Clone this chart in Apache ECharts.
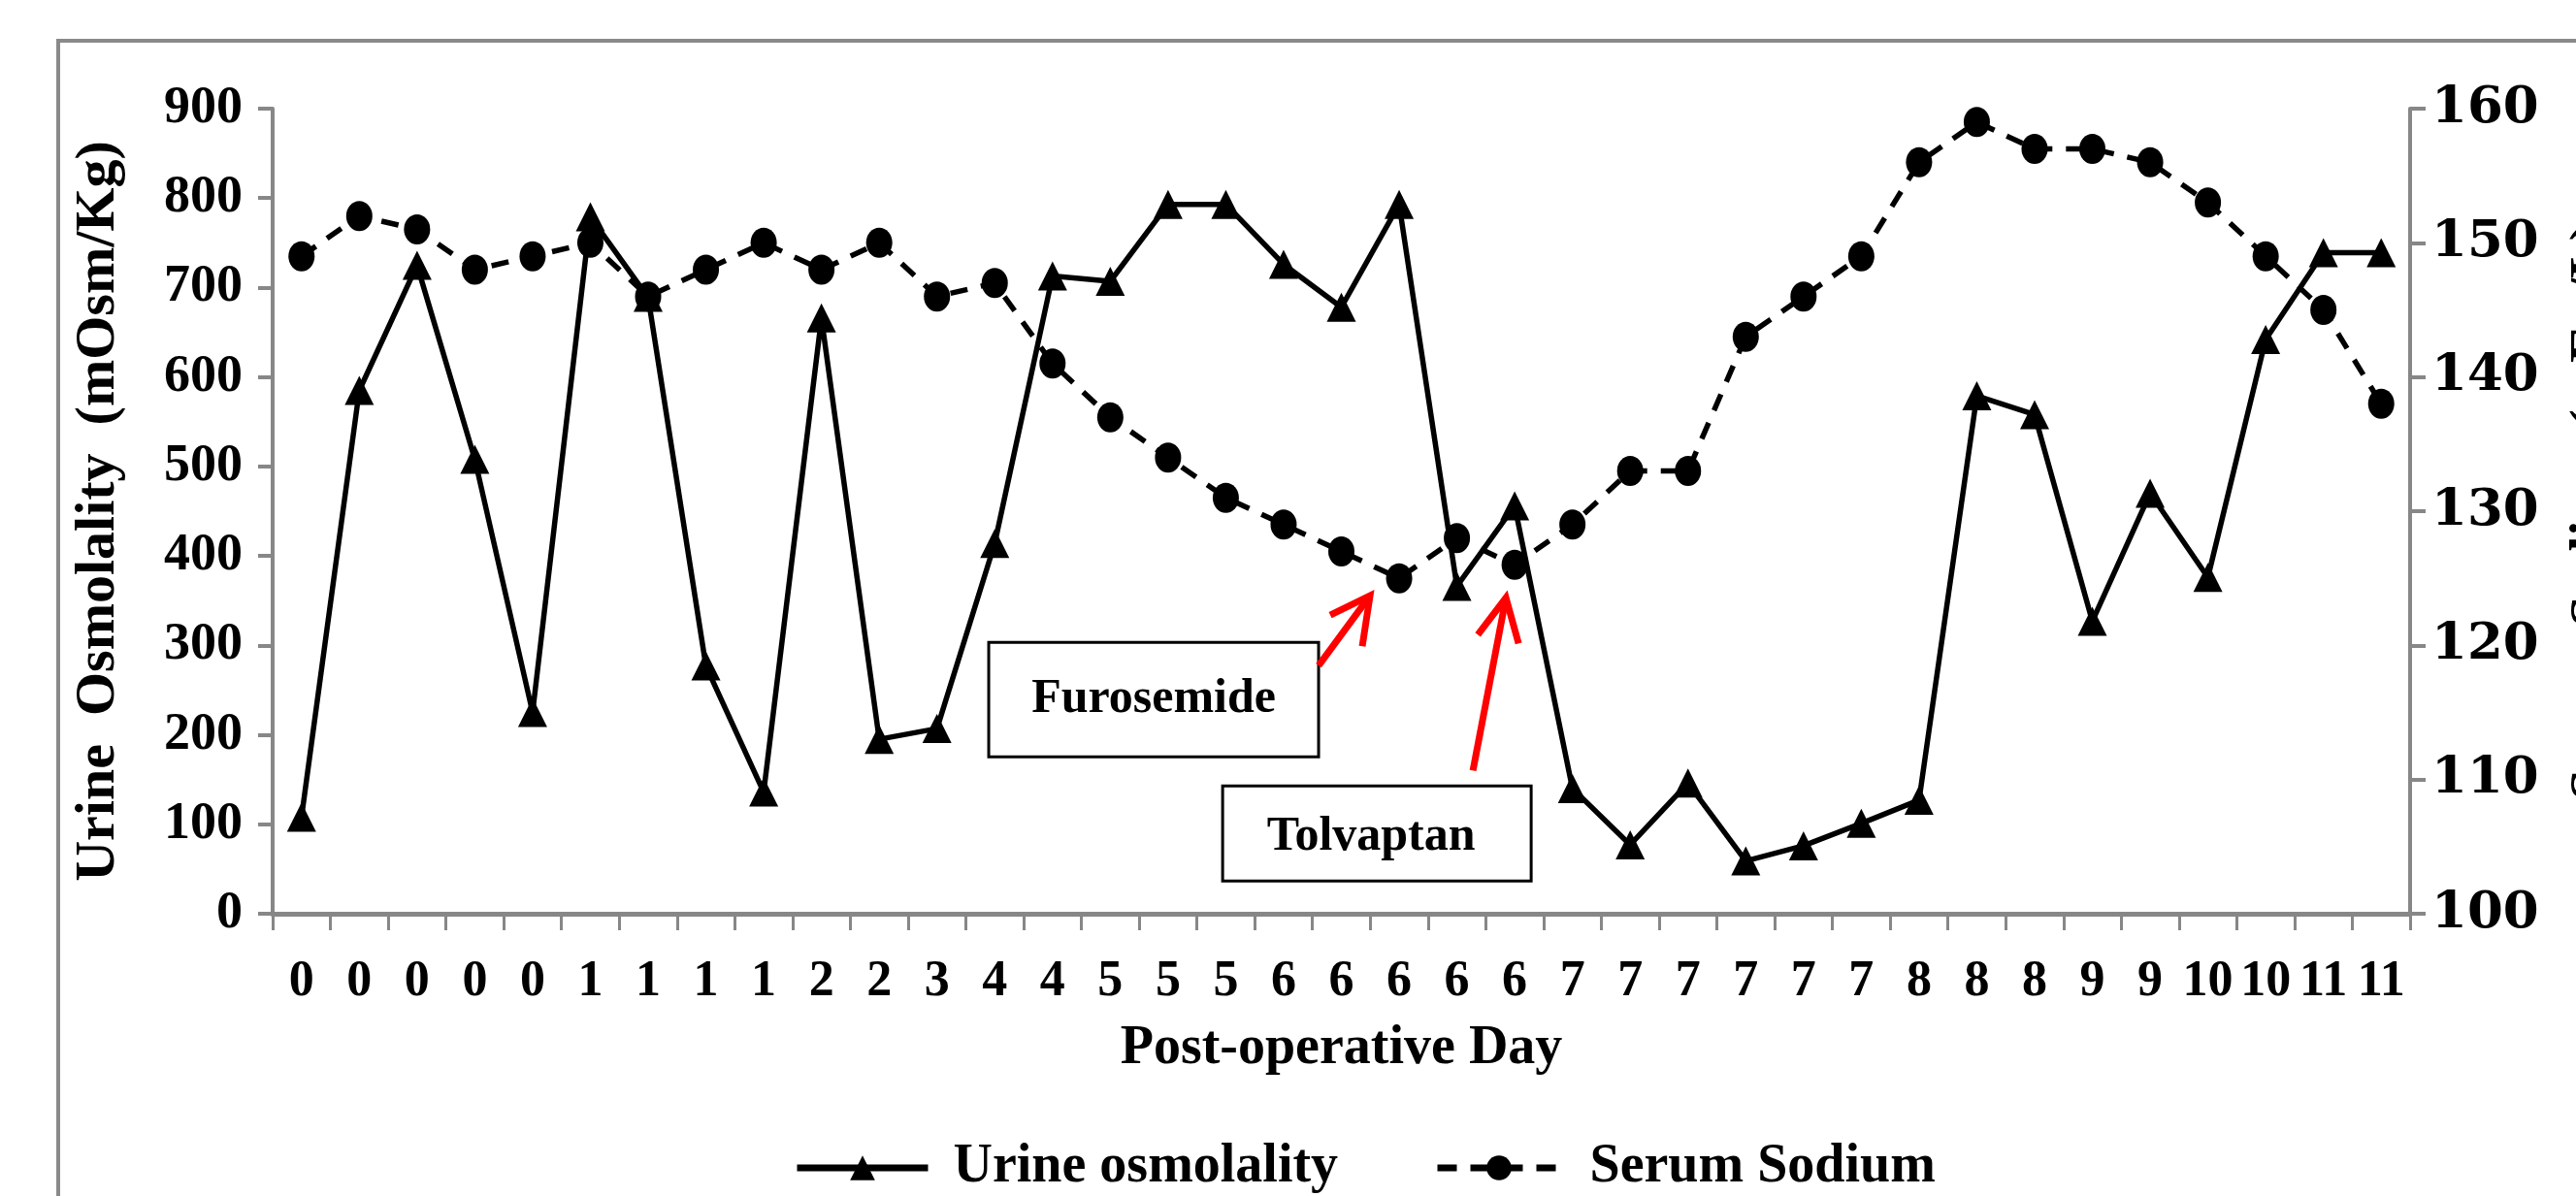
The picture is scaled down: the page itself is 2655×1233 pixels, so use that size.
<!DOCTYPE html>
<html><head><meta charset="utf-8">
<script src="https://cdn.jsdelivr.net/npm/echarts@6/dist/echarts.min.js"></script>
<style>html,body{margin:0;padding:0;background:#fff;}#c{width:2655px;height:1233px;}</style>
</head><body><div id="c"></div>
<script>
// ---- data ----
const dayLabels = ['0','0','0','0','0','1','1','1','1','2','2','3','4','4','5','5','5','6','6','6','6','6','7','7','7','7','7','7','8','8','8','9','9','10','10','11','11'];
const urineOsmolality = [108,585,725,508,225,779,689,277,136,666,195,207,414,713,707,793,793,726,678,793,366,456,140,77,146,59,76,101,127,579,558,327,470,376,642,739,739];
const serumSodium = [149,152,151,148,149,150,146,148,150,148,150,146,147,141,137,134,131,129,127,125,128,126,129,133,133,143,146,149,156,159,157,157,156,153,149,145,138];
const leftAxisTicks = [0,100,200,300,400,500,600,700,800,900];
const rightAxisTicks = [100,110,120,130,140,150,160];
const furosemideIndex = 19;
const tolvaptanIndex = 21;

const chart = echarts.init(document.getElementById('c'), null, {renderer:'canvas'});
const SERIF = 'Liberation Serif';
const AX = '#878787';
const labelStyle = {color:'#000', fontFamily:SERIF, fontWeight:'bold'};

const option = {
  backgroundColor:'#fff',
  animation:false,
  grid:{left:281, right:2655-2484, top:112, bottom:1233-942, containLabel:false, outerBoundsMode:'none'},
  xAxis:{
    type:'category', data:dayLabels, boundaryGap:true,
    axisLine:{lineStyle:{color:AX, width:5}},
    axisTick:{show:true, interval:0, length:17, lineStyle:{color:AX, width:3}},
    axisLabel:Object.assign({interval:0, margin:45, fontSize:52, hideOverlap:false}, labelStyle),
    splitLine:{show:false},
    name:'Post-operative Day', nameLocation:'middle', nameGap:112,
    nameTextStyle:Object.assign({fontSize:56}, labelStyle)
  },
  yAxis:[
    {
      type:'value', position:'left',
      min:leftAxisTicks[0], max:leftAxisTicks[leftAxisTicks.length-1], interval:leftAxisTicks[1]-leftAxisTicks[0],
      splitLine:{show:false},
      axisLine:{show:true, lineStyle:{color:AX, width:4}},
      axisTick:{show:true, length:15, lineStyle:{color:AX, width:4}},
      axisLabel:Object.assign({margin:31, fontSize:54}, labelStyle),
      name:'Urine  Osmolality  (mOsm/Kg)', nameLocation:'middle', nameRotate:90, nameGap:150,
      nameTextStyle:Object.assign({fontSize:58}, labelStyle)
    },
    {
      type:'value', position:'right',
      min:rightAxisTicks[0], max:rightAxisTicks[rightAxisTicks.length-1], interval:rightAxisTicks[1]-rightAxisTicks[0],
      splitLine:{show:false},
      axisLine:{show:true, lineStyle:{color:AX, width:4}},
      axisTick:{show:true, length:16, lineStyle:{color:AX, width:4}},
      axisLabel:{margin:22, fontSize:53, color:'#000', fontFamily:'DejaVu Serif', fontWeight:'bold'},
      name:'Serum Sodium (mEq/L)', nameLocation:'middle', nameRotate:90, nameGap:160,
      nameTextStyle:Object.assign({fontSize:58}, labelStyle)
    }
  ],
  legend:[
    {data:['Urine osmolality'], left:813, top:1171, itemWidth:135, itemHeight:32, itemGap:0,
     lineStyle:{width:7},
     textStyle:Object.assign({fontSize:56, padding:[0,0,0,21]}, labelStyle)},
    {data:['Serum Sodium'], left:1473, top:1171, itemWidth:127, itemHeight:32, itemGap:0,
     lineStyle:{width:7, type:[20,14]},
     textStyle:Object.assign({fontSize:56, padding:[0,0,0,25]}, labelStyle)}
  ],
  series:[
    {name:'Urine osmolality', type:'line', data:urineOsmolality, yAxisIndex:0,
     symbol:'triangle', symbolSize:30, showAllSymbol:true,
     lineStyle:{color:'#000', width:5.5}, itemStyle:{color:'#000'}},
    {name:'Serum Sodium', type:'line', data:serumSodium, yAxisIndex:1,
     symbol:'circle', symbolSize:[27,31], showAllSymbol:true,
     lineStyle:{color:'#000', width:5.5, type:[18,14]}, itemStyle:{color:'#000'}}
  ]
};
chart.setOption(option);

// annotations anchored on the sodium points they point at
const pF = chart.convertToPixel({seriesIndex:1}, [furosemideIndex, serumSodium[furosemideIndex]]);
const pT = chart.convertToPixel({seriesIndex:1}, [tolvaptanIndex, serumSodium[tolvaptanIndex]]);
const RED = '#ff0000';
function arrow(tip, tail, w1, w2){
  return [
    {type:'line', z:20, silent:true, shape:{x1:tip[0]+tail[0], y1:tip[1]+tail[1], x2:tip[0], y2:tip[1]}, style:{stroke:RED, lineWidth:7}},
    {type:'polyline', z:20, silent:true, shape:{points:[[tip[0]+w1[0], tip[1]+w1[1]], tip, [tip[0]+w2[0], tip[1]+w2[1]]]}, style:{stroke:RED, lineWidth:7, fill:null}}
  ];
}
const fTip = [pF[0]-30, pF[1]+18];
const tTip = [pT[0]-9, pT[1]+34];
const fBox = {x:pF[0]-423, y:pF[1]+66, width:340, height:118};
const tBox = {x:pT[0]-301, y:pT[1]+228, width:318, height:98};
chart.setOption({
  graphic:[
    {type:'rect', z:-10, silent:true, shape:{x:60, y:42, width:2800, height:1400}, style:{fill:null, stroke:'#8a8a8a', lineWidth:4}},
    {type:'rect', z:15, silent:true, shape:fBox, style:{fill:'#fff', stroke:'#000', lineWidth:3}},
    {type:'text', z:16, silent:true, style:{text:'Furosemide', x:fBox.x+fBox.width/2, y:fBox.y+fBox.height/2, align:'center', verticalAlign:'middle', font:'bold 50px "Liberation Serif"', fill:'#000'}},
    {type:'rect', z:15, silent:true, shape:tBox, style:{fill:'#fff', stroke:'#000', lineWidth:3}},
    {type:'text', z:16, silent:true, style:{text:'Tolvaptan', x:tBox.x+tBox.width/2-6, y:tBox.y+tBox.height/2+4, align:'center', verticalAlign:'middle', font:'bold 50px "Liberation Serif"', fill:'#000'}}
  ].concat(arrow(fTip, [-53,72], [-41,20], [-8,52]))
   .concat(arrow(tTip, [-34,178], [-29,38], [13,47]))
});
</script>
</body></html>
